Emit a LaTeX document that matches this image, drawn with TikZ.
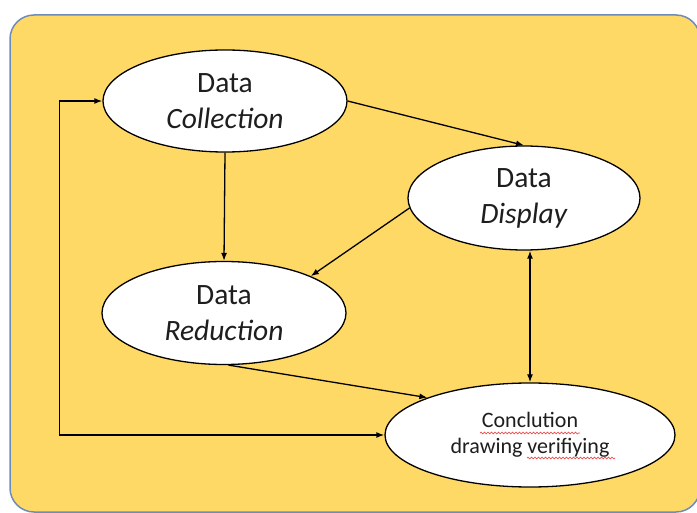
\documentclass[tikz,border=0pt]{standalone}
\usepackage{fontspec}
\setmainfont{Carlito}
\usetikzlibrary{shapes,positioning,arrows.meta,calc,decorations.pathmorphing}
\definecolor{panel}{HTML}{FFD966}
\definecolor{panelline}{RGB}{110,140,185}
\definecolor{spell}{RGB}{235,80,80}
\definecolor{ink}{RGB}{30,30,30}

\begin{document}
\begin{tikzpicture}[x=1pt, y=-1pt, ->, >={Latex[length=8pt,width=6pt]}, line width=1.3pt]
      \tikzstyle{stage} = [ellipse, draw, fill=white, inner sep=0pt, align=center, text=ink,
        font=\fontsize{29.5}{36}\selectfont]
      \tikzstyle{wavy} = [-, spell, line width=0.7pt, decorate,
        decoration={snake, amplitude=0.9pt, segment length=3.5pt}]
      \useasboundingbox (0,0) rectangle (697,513);
      \draw[-, panelline, line width=1.5pt, fill=panel, rounded corners=24pt] (10,15) rectangle (700,512);
      \node (collection) [stage, minimum width=244pt, minimum height=102pt] at (225,101) {Data\\\textit{Collection}};
      \node (display) [stage, minimum width=232pt, minimum height=104pt] at (524,198) {Data\\\textit{Display}};
      \node (reduction) [stage, minimum width=244pt, minimum height=103pt] at (224,313) {Data\\\textit{Reduction}};
      \node (conclusion) [stage, minimum width=290pt, minimum height=104pt, font=\fontsize{22}{26}\selectfont]
        at (530,435) {Conclution\\drawing verifiying};
      \draw (collection.south) -- (reduction.north);
      \draw (collection.east) -- (display.north);
      \draw (display.185) -- (reduction.23);
      \draw[<->] (display.south -| conclusion.north) -- (conclusion.north);
      \draw (reduction.-85) -- (conclusion.160);
      \draw[<->] (collection.west) -- ++(-43,0) |- (conclusion.west);
      % spell-check marks
      \draw[wavy] ($(conclusion.center)+(-50,-2)$) -- ++(100,0);
      \draw[wavy] ($(conclusion.center)+(-3,23)$) -- ++(88,0);
    \end{tikzpicture}
\end{document}
